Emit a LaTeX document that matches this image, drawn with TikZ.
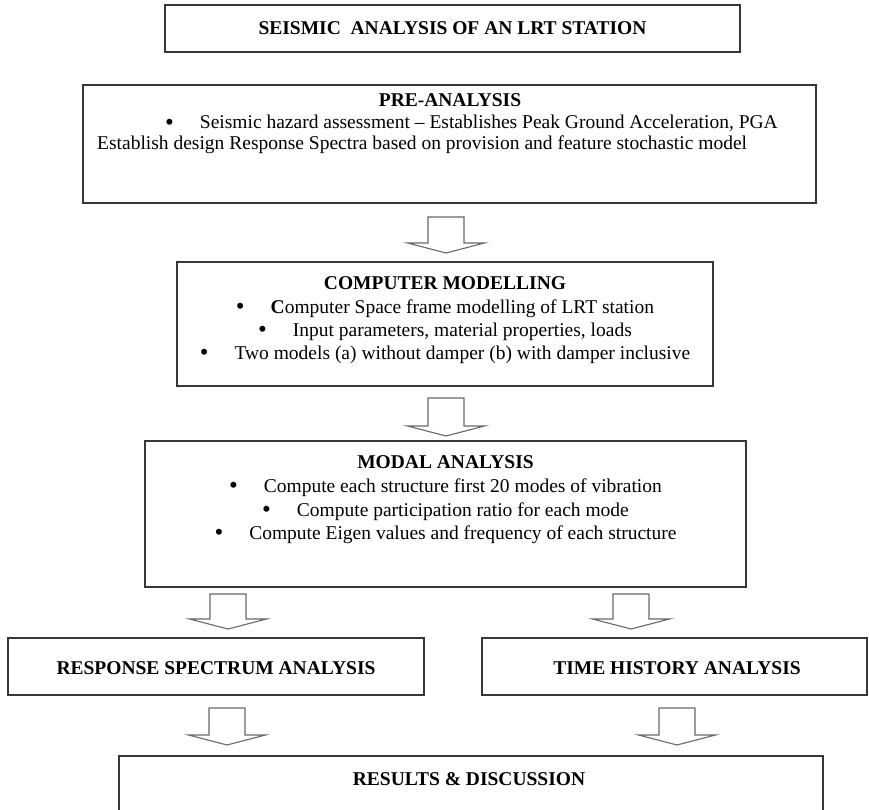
\documentclass[tikz,border=0pt]{standalone}
\usepackage{fontspec}
\setmainfont{Liberation Serif}
\usetikzlibrary{calc}
\definecolor{boxc}{RGB}{55,55,55}
\definecolor{arrc}{RGB}{105,105,105}
\newcommand{\blockarrow}[4]{%
  \draw[barrow] (#1-18,#2) -- (#1+18,#2) -- (#1+18,#3) -- (#1+38.5,#3) -- (#1,#4)
    -- (#1-38.5,#3) -- (#1-18,#3) -- cycle;}
\newcommand{\bul}{\raisebox{-1.2pt}{\fontsize{25}{23}\selectfont\textbullet}\hspace{26pt}}
\begin{document}
\begin{tikzpicture}[x=1pt,y=-1pt,
  box/.style={draw=boxc, line width=1.4pt, fill=white, inner sep=0pt, outer sep=0pt},
  txt/.style={font=\fontsize{19.5}{23}\selectfont, inner sep=0pt, anchor=base},
  hd/.style={font=\fontsize{19.5}{23}\selectfont\bfseries, inner sep=0pt, anchor=base},
  barrow/.style={draw=arrc, line width=1.1pt, fill=white, line join=miter}]
\useasboundingbox (0,0) rectangle (869,810);
\clip (0,0) rectangle (869,810);
\fill[white] (0,0) rectangle (869,810);

% boxes
\node[box, minimum width=575, minimum height=47] (title) at (452.5,28.5) {};
\node[box, minimum width=733, minimum height=118] (pre) at (449.5,144) {};
\node[box, minimum width=536, minimum height=124] (comp) at (445,324) {};
\node[box, minimum width=601, minimum height=146] (modal) at (445.5,514) {};
\node[box, minimum width=416, minimum height=57] (resp) at (216,666.5) {};
\node[box, minimum width=385, minimum height=57] (time) at (674.5,666.5) {};
\node[box, minimum width=704, minimum height=120] (res) at (471,816) {};

% texts
\node[hd] (titleT) at (452.5,35) {SEISMIC\ \ ANALYSIS OF AN LRT STATION};

\node[hd] (preH) at (450,107) {PRE-ANALYSIS};
\node[txt, anchor=base west] (pre1) at (165,129) {\bul Seismic hazard assessment – Establishes Peak Ground Acceleration, PGA};
\node[txt, anchor=base west] (pre2) at (97,150) {Establish design Response Spectra based on provision and feature stochastic model};

\node[hd] (compH) at (445,289) {COMPUTER MODELLING};
\node[txt] (comp1) at (445,313) {\bul\textbf{C}omputer Space frame modelling of LRT station};
\node[txt] (comp2) at (445,336) {\bul Input parameters, material properties, loads};
\node[txt] (comp3) at (445,359) {\bul Two models (a) without damper (b) with damper inclusive};

\node[hd] (modalH) at (445.5,468) {MODAL ANALYSIS};
\node[txt] (modal1) at (445.5,492) {\bul Compute each structure first 20 modes of vibration};
\node[txt] (modal2) at (445.5,516) {\bul Compute participation ratio for each mode};
\node[txt] (modal3) at (445.5,539) {\bul Compute Eigen values and frequency of each structure};

\node[hd] (respT) at (216,674) {RESPONSE SPECTRUM ANALYSIS};
\node[hd] (timeT) at (677,674) {TIME HISTORY ANALYSIS};
\node[hd] (resT) at (469,785) {RESULTS \& DISCUSSION};

% block arrows
\blockarrow{446}{217}{243}{253}
\blockarrow{446}{398}{426}{436}
\blockarrow{228}{594}{619}{629}
\blockarrow{631}{594}{619}{629}
\blockarrow{227}{708}{735}{745}
\blockarrow{677}{708}{735}{745}
\end{tikzpicture}
\end{document}
